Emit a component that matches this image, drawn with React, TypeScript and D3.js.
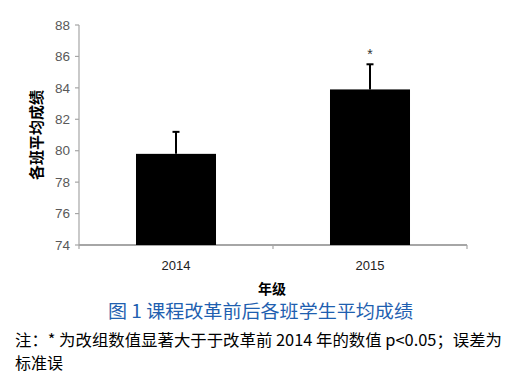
import React from "react";
import * as d3 from "d3";

const categories = ["2014", "2015"];
const means = [79.8, 83.9];
const errors = [1.4, 1.6];
const marks = ["", "*"];
const yTicks = [74, 76, 78, 80, 82, 84, 86, 88];
const yLabel = "各班平均成绩";
const xLabel = "年级";
const title = "图 1 课程改革前后各班学生平均成绩";
const note1 = "注：* 为改组数值显著大于于改革前 2014 年的数值 p<0.05；误差为";
const note2 = "标准误";

export default function App() {
  const W = 514, H = 380;
  const left = 79, right = 467, top = 25, bottom = 245;
  const y = d3.scaleLinear().domain([74, 88]).range([bottom, top]);
  const x = d3.scaleBand().domain(categories).range([left, right]).paddingInner(0.5876).paddingOuter(0.2938);
  const axisColor = "#a6a6a6";
  const font = "'Liberation Sans', Arial, sans-serif";
  const cjk = "'Noto Sans CJK SC', sans-serif";
  const step = x.step();
  return (
    <svg width={W} height={H} style={{ position: "absolute", left: 0, top: 0, background: "#fff" }}>
      {/* y axis */}
      <line x1={left} x2={left} y1={top} y2={bottom} stroke={axisColor} strokeWidth={1.2} />
      {yTicks.map((t) => (
        <g key={t}>
          <line x1={left - 4} x2={left} y1={y(t)} y2={y(t)} stroke={axisColor} strokeWidth={1.2} />
          <text x={left - 9} y={y(t)} dy="0.35em" textAnchor="end" fontSize={13.5} fill="#595959" fontFamily={font}>{t}</text>
        </g>
      ))}
      {/* x axis */}
      <line x1={left} x2={right} y1={bottom} y2={bottom} stroke={axisColor} strokeWidth={1.8} />
      {[0, 1, 2].map((i) => (
        <line key={i} x1={left + i * step} x2={left + i * step} y1={bottom} y2={bottom + 4} stroke={axisColor} strokeWidth={1.2} />
      ))}
      {categories.map((c, i) => {
        const bx = x(c)!;
        const cx = bx + x.bandwidth() / 2;
        return (
          <g key={c}>
            <rect x={bx} y={y(means[i])} width={x.bandwidth()} height={bottom - y(means[i])} fill="#000" />
            <line x1={cx} x2={cx} y1={y(means[i])} y2={y(means[i] + errors[i])} stroke="#000" strokeWidth={2} />
            <line x1={cx - 3.5} x2={cx + 3.5} y1={y(means[i] + errors[i])} y2={y(means[i] + errors[i])} stroke="#000" strokeWidth={2} />
            {marks[i] && (
              <text x={cx} y={y(means[i] + errors[i]) - 5} textAnchor="middle" fontSize={14} fill="#333" fontFamily={font}>{marks[i]}</text>
            )}
            <text x={cx} y={265} dy="0.35em" textAnchor="middle" fontSize={13} fill="#222" fontFamily={font}>{c}</text>
          </g>
        );
      })}
      <text transform={`translate(37,${(top + bottom) / 2}) rotate(-90)`} textAnchor="middle" dy="0.35em" fontSize={15} fontWeight="bold" fill="#000" fontFamily={cjk}>{yLabel}</text>
      <text x={272} y={289} dy="0.35em" textAnchor="middle" fontSize={14} fontWeight="bold" fill="#000" fontFamily={cjk}>{xLabel}</text>
      <text x={108} y={312} dy="0.35em" fontSize={18} fill="#1f5fb0" fontFamily={cjk} textLength={305} lengthAdjust="spacingAndGlyphs">{title}</text>
      <text x={15} y={340} dy="0.35em" fontSize={16} fill="#000" fontFamily={cjk} textLength={487} lengthAdjust="spacingAndGlyphs">{note1}</text>
      <text x={15} y={363} dy="0.35em" fontSize={16} fill="#000" fontFamily={cjk}>{note2}</text>
    </svg>
  );
}
